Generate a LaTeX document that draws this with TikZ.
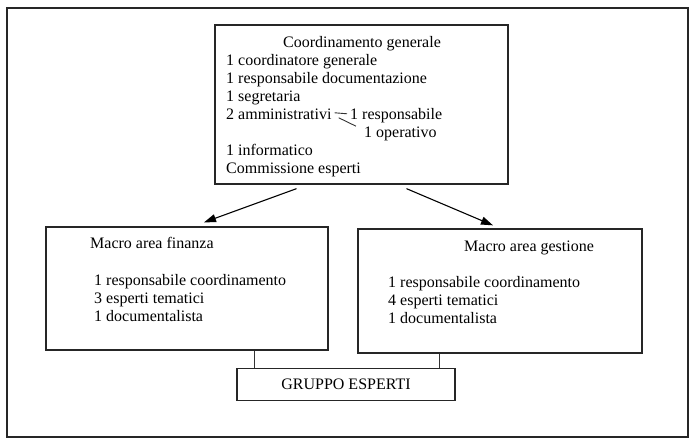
\documentclass[tikz,border=0pt]{standalone}
\usepackage{fontspec}
\setmainfont{Liberation Serif}
\usetikzlibrary{arrows.meta}

\begin{document}
\begin{tikzpicture}[
  x=1pt,
  y=-1pt,
  frame/.style={draw=black!85, line width=1.3pt},
  box/.style={draw=black!85, line width=1.3pt, inner sep=0pt},
  entry/.style={anchor=base west, inner sep=0pt, font=\fontsize{16}{18}\selectfont},
  flow/.style={-{Triangle[length=12pt,width=8pt]}, line width=1.1pt},
  link/.style={line width=0.9pt, color=black!80}
]
  \useasboundingbox (0,0) rectangle (691,439);
  \draw[frame] (7,8) rectangle (688,437);

  % coordinamento
  \node[box, minimum width=293pt, minimum height=159pt] (coord) at (361.5,104.5) {};
  \node[entry, anchor=base] (coordtitle) at (362,47) {Coordinamento generale};
  \node[entry] (cgen) at (226,65) {1 coordinatore generale};
  \node[entry] (cdoc) at (226,83) {1 responsabile documentazione};
  \node[entry] (cseg) at (226,101) {1 segretaria};
  \node[entry] (camm) at (226,119) {2 amministrativi};
  \node[entry] (cresp) at (350,119) {1 responsabile};
  \node[entry] (coper) at (364,137) {1 operativo};
  \node[entry] (cinf) at (226,155) {1 informatico};
  \node[entry] (ccomm) at (226,173) {Commissione esperti};
  \draw[link] ([xshift=3pt,yshift=1pt]camm.east) -- ([xshift=-3pt]cresp.west |- camm.east);
  \draw[link] ([xshift=7pt,yshift=-4pt]camm.east) -- ([xshift=-8pt]coper.north west);

  % macro aree
  \node[box, minimum width=282pt, minimum height=123pt] (finanza) at (187,288.5) {};
  \node[entry] (ftitle) at (90,248) {Macro area finanza};
  \node[entry] (fresp) at (94,285) {1 responsabile coordinamento};
  \node[entry] (fesp) at (94,303) {3 esperti tematici};
  \node[entry] (fdoc) at (94,321) {1 documentalista};

  \node[box, minimum width=284pt, minimum height=124pt] (gestione) at (500,291) {};
  \node[entry] (gtitle) at (464,251) {Macro area gestione};
  \node[entry] (gresp) at (388,287) {1 responsabile coordinamento};
  \node[entry] (gesp) at (388,305) {4 esperti tematici};
  \node[entry] (gdoc) at (388,323) {1 documentalista};

  \draw[flow] ([xshift=-65pt,yshift=-4pt]coord.south) -- ([xshift=17pt,yshift=4pt]finanza.north);
  \draw[flow] ([xshift=45pt,yshift=-4pt]coord.south) -- ([xshift=-7pt,yshift=3pt]gestione.north);

  % gruppo esperti
  \node[box, minimum width=218pt, minimum height=32pt] (gruppo) at (346,384.5) {};
  \node[entry, anchor=base] (gtext) at (346,389) {GRUPPO ESPERTI};
  \draw[link] ([xshift=67pt]finanza.south) -- ([xshift=-92pt]gruppo.north);
  \draw[link] ([xshift=-61pt]gestione.south) -- ([xshift=93pt]gruppo.north);
\end{tikzpicture}
\end{document}
